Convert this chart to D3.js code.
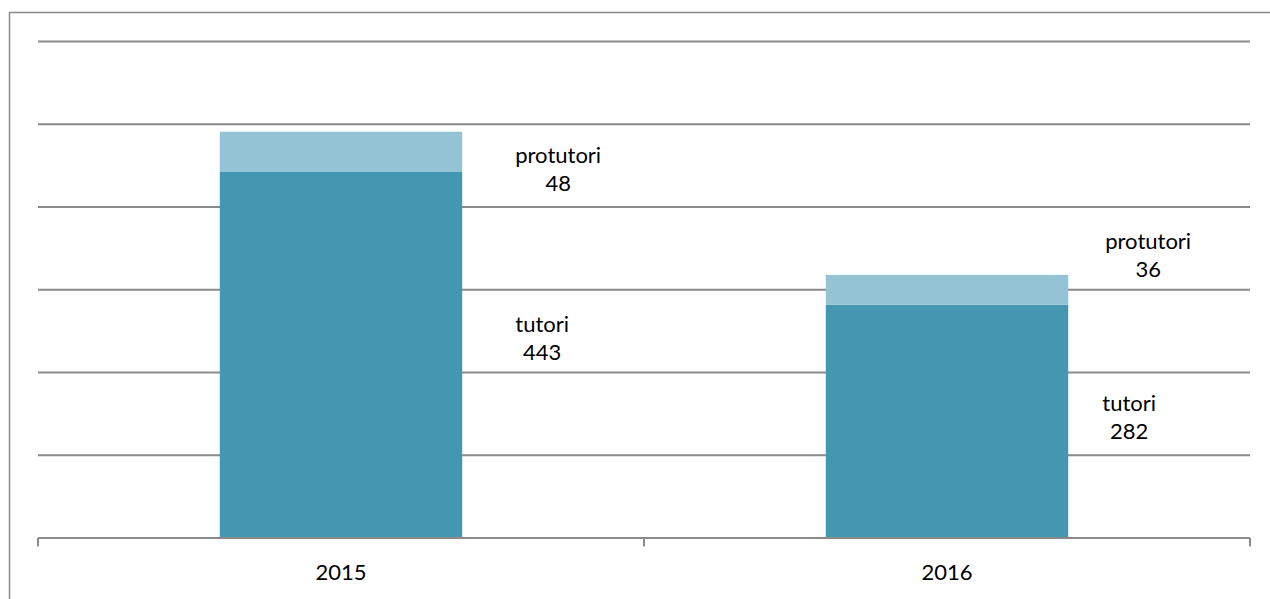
<!DOCTYPE html>
<html>
<head>
<meta charset="utf-8">
<script src="https://cdn.jsdelivr.net/npm/d3@7"></script>
<style>
  html, body { margin: 0; padding: 0; background: #fff; }
  svg { display: block; }
  text { font-family: Lato, "Open Sans", sans-serif; fill: #000; }
</style>
</head>
<body>
<svg id="chart" width="1270" height="599"></svg>
<script>
const categories = ["2015", "2016"];
const seriesNames = ["tutori", "protutori"];
const tutori = [443, 282];
const protutori = [48, 36];
const yTicks = [0, 100, 200, 300, 400, 500, 600];

const svg = d3.select("#chart");

// outer border (extends beyond right/bottom edges like the reference)
svg.append("rect")
  .attr("x", 9.5).attr("y", 12.5)
  .attr("width", 1400).attr("height", 800)
  .attr("fill", "none").attr("stroke", "#8a8a8a").attr("stroke-width", 1.5);

const x = d3.scaleBand().domain(categories).range([38, 1250]).paddingInner(0).paddingOuter(0);
const y = d3.scaleLinear().domain([0, 600]).range([538, 41.5]);

// gridlines
svg.append("g").selectAll("line")
  .data(yTicks.filter(d => d > 0))
  .join("line")
  .attr("x1", 38).attr("x2", 1250)
  .attr("y1", d => y(d)).attr("y2", d => y(d))
  .attr("stroke", "#8a8a8a").attr("stroke-width", 2);

// stacked data
const rows = categories.map((c, i) => ({ cat: c, tutori: tutori[i], protutori: protutori[i] }));
const stack = d3.stack().keys(seriesNames)(rows);
const colors = { tutori: "#4397b0", protutori: "#93c3d4" };

const barW = x.bandwidth() * 0.4;
stack.forEach(layer => {
  svg.append("g").selectAll("rect")
    .data(layer)
    .join("rect")
    .attr("x", d => x(d.data.cat) + (x.bandwidth() - barW) / 2)
    .attr("width", barW)
    .attr("y", d => y(d[1]))
    .attr("height", d => y(d[0]) - y(d[1]))
    .attr("fill", colors[layer.key]);
});

// baseline axis
const axis = svg.append("g");
axis.append("line")
  .attr("x1", 38).attr("x2", 1250)
  .attr("y1", y(0)).attr("y2", y(0))
  .attr("stroke", "#8a8a8a").attr("stroke-width", 2);
const tickXs = [x(categories[0]), x(categories[1]), x(categories[1]) + x.bandwidth()];
axis.selectAll("line.tick").data(tickXs).join("line")
  .attr("class", "tick")
  .attr("x1", d => d).attr("x2", d => d)
  .attr("y1", y(0)).attr("y2", y(0) + 8.5)
  .attr("stroke", "#8a8a8a").attr("stroke-width", 2);
axis.selectAll("text").data(categories).join("text")
  .attr("x", d => x(d) + x.bandwidth() / 2)
  .attr("y", 580)
  .attr("text-anchor", "middle")
  .attr("font-size", 22)
  .text(d => d);

// data labels (manually placed to the right of each segment, as in the reference)
const labelOffsets = {
  protutori: [{ dx: 96, dy: 11 }, { dx: 80, dy: -41 }],
  tutori: [{ dx: 80, dy: -23 }, { dx: 61, dy: -10 }]
};
stack.forEach(layer => {
  layer.forEach((d, i) => {
    const off = labelOffsets[layer.key][i];
    const cx = x(d.data.cat) + (x.bandwidth() + barW) / 2 + off.dx;
    const midY = (y(d[0]) + y(d[1])) / 2 + off.dy;
    const t = svg.append("text")
      .attr("x", cx).attr("y", midY)
      .attr("text-anchor", "middle")
      .attr("font-size", 22);
    t.append("tspan").attr("x", cx).attr("dy", 0).text(layer.key);
    t.append("tspan").attr("x", cx).attr("dy", 28).text(d.data[layer.key]);
  });
});
</script>
</body>
</html>
